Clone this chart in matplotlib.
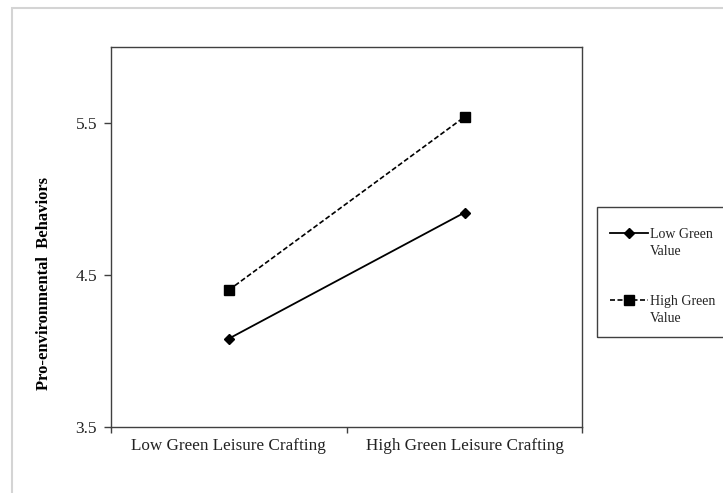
import matplotlib.pyplot as plt
from matplotlib.patches import Rectangle

# data
categories = ["Low Green Leisure Crafting", "High Green Leisure Crafting"]
low_value = [4.08, 4.91]
high_value = [4.40, 5.54]
y_ticks = [3.5, 4.5, 5.5]
series_names = ["Low Green", "High Green"]

plt.rcParams["font.family"] = ["Liberation Serif", "DejaVu Serif"]

fig = plt.figure(figsize=(7.23, 4.93), dpi=100)
ax = fig.add_axes([0.1535, 0.1345, 0.652, 0.770])

x = list(range(len(categories)))
ax.plot(x, low_value, color="black", lw=1.3, marker="D", markersize=5,
        label=series_names[0])
ax.plot(x, high_value, color="black", lw=1.2, ls=(0, (3, 1.5)), marker="s",
        markersize=6.5, label=series_names[1])

ax.set_xlim(-0.5, len(categories) - 0.5)
ax.set_ylim(3.5, 6.0)
ax.set_yticks(y_ticks)
ax.set_yticklabels([str(t) for t in y_ticks])
ax.tick_params(axis="y", direction="out", length=5, width=1, color="#404040",
               labelsize=12.5, pad=5, labelcolor="#222222")

# category labels between the tick marks (excel style)
ax.set_xticks([i - 0.5 for i in range(len(categories) + 1)])
ax.set_xticklabels([])
ax.set_xticks(x, minor=True)
ax.set_xticklabels(categories, minor=True)
ax.tick_params(axis="x", which="major", direction="out", length=4, width=1,
               color="#404040")
ax.tick_params(axis="x", which="minor", length=0, labelsize=12.3, pad=8,
               labelcolor="#222222")

for s in ax.spines.values():
    s.set_color("#404040")
    s.set_linewidth(1)

ax.set_ylabel("Pro-environmental  Behaviors", fontsize=12, fontweight="bold")
ax.yaxis.set_label_coords(-0.125, 0.377)

# legend box (runs off the right side)
fig.patches.append(Rectangle((597 / 723, 1 - 337 / 493), 0.3, 130 / 493,
                             transform=fig.transFigure, fill=False,
                             edgecolor="#404040", lw=1))
leg = ax.legend(loc="upper left", bbox_to_anchor=(610 / 723, 1 - 228 / 493),
                bbox_transform=fig.transFigure, frameon=False, fontsize=10,
                handlelength=2.7, handletextpad=0.15, labelspacing=3.9,
                borderpad=0, borderaxespad=0)

# second line of each legend label, placed under the first line
fig.canvas.draw()
inv = fig.transFigure.inverted()
for t in leg.get_texts():
    t.set_color("#222222")
    bb = t.get_window_extent()
    fx, fy = inv.transform((bb.x0, bb.y0))
    fig.text(fx, fy - 4 / 493, "Value", ha="left", va="top", fontsize=10,
             color="#222222")

# light grey frame around figure
fig.patches.append(Rectangle((12 / 723, -0.1), 1.2, 1.1 - 8.5 / 493,
                             transform=fig.transFigure, fill=False,
                             edgecolor="#d4d4d4", lw=1.5))

fig.savefig("out.png", dpi=100)
